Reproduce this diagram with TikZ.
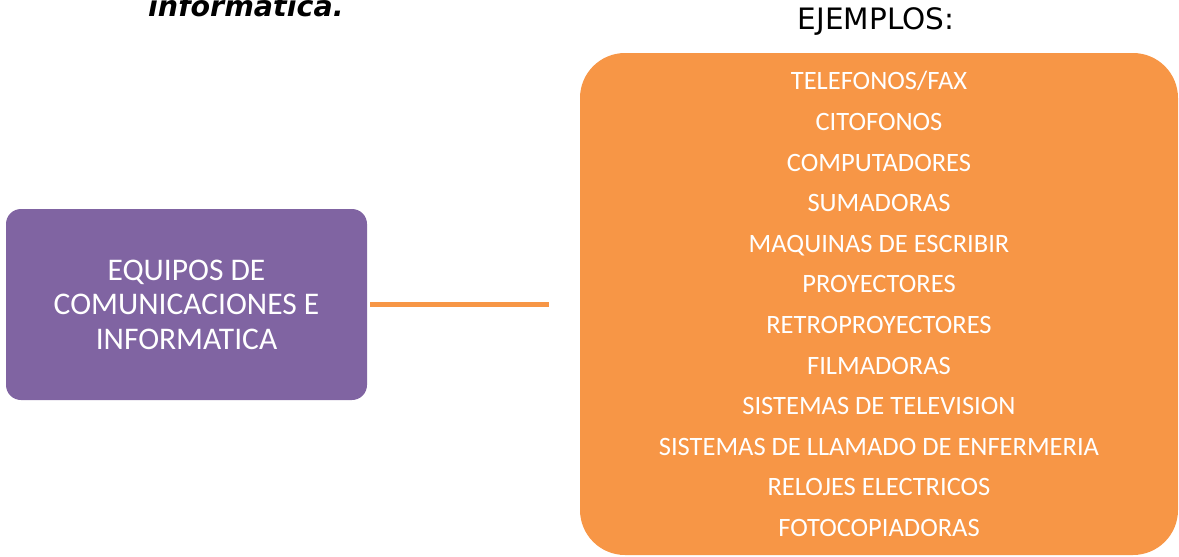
\documentclass[tikz,border=0pt]{standalone}
\usepackage{fontspec}
\usepackage{xcolor}
\setmainfont{Carlito}
\newfontfamily\tituloFont{DejaVu Sans}

\definecolor{morado}{HTML}{8064A2}
\definecolor{naranja}{HTML}{F79646}

\begin{document}
\begin{tikzpicture}[
      x = 1pt, y = -1pt,
      caja/.style = {rectangle, rounded corners = 15pt, fill = morado, text = white,
                     align = center, inner sep = 0pt,
                     minimum width = 361pt, minimum height = 191pt,
                     font = \fontsize{31.5}{34.5}\selectfont},
      lista/.style = {rectangle, rounded corners = 45pt, fill = naranja, text = white,
                      align = center, inner sep = 0pt,
                      minimum width = 598pt, minimum height = 502pt,
                      font = \fontsize{26.5}{40.6}\selectfont},
      linea/.style = {naranja, line width = 5pt}
      ]
      \useasboundingbox (0,0) rectangle (1179,557);
      % titulo cortado arriba
      \node[anchor = base west, inner sep = 0pt, font = \tituloFont\bfseries\itshape\fontsize{28.5}{30}\selectfont] (titulo) at (148,16) {informatica.};
      \node[anchor = base, inner sep = 0pt, font = \tituloFont\fontsize{29.5}{31}\selectfont] (ejemplos) at (876,29) {EJEMPLOS:};
      \node[caja] (equipos) at (186.5,304.5) {EQUIPOS DE\\COMUNICACIONES E\\INFORMATICA};
      \node[lista] (lista) at (879,304) {TELEFONOS/FAX\\CITOFONOS\\COMPUTADORES\\SUMADORAS\\
            MAQUINAS DE ESCRIBIR\\PROYECTORES\\RETROPROYECTORES\\FILMADORAS\\
            SISTEMAS DE TELEVISION\\SISTEMAS DE LLAMADO DE ENFERMERIA\\
            RELOJES ELECTRICOS\\FOTOCOPIADORAS};
      \draw[linea, shorten < = 3pt, shorten > = 31pt] (equipos.east) -- (equipos.east -| lista.west);
\end{tikzpicture}
\end{document}
